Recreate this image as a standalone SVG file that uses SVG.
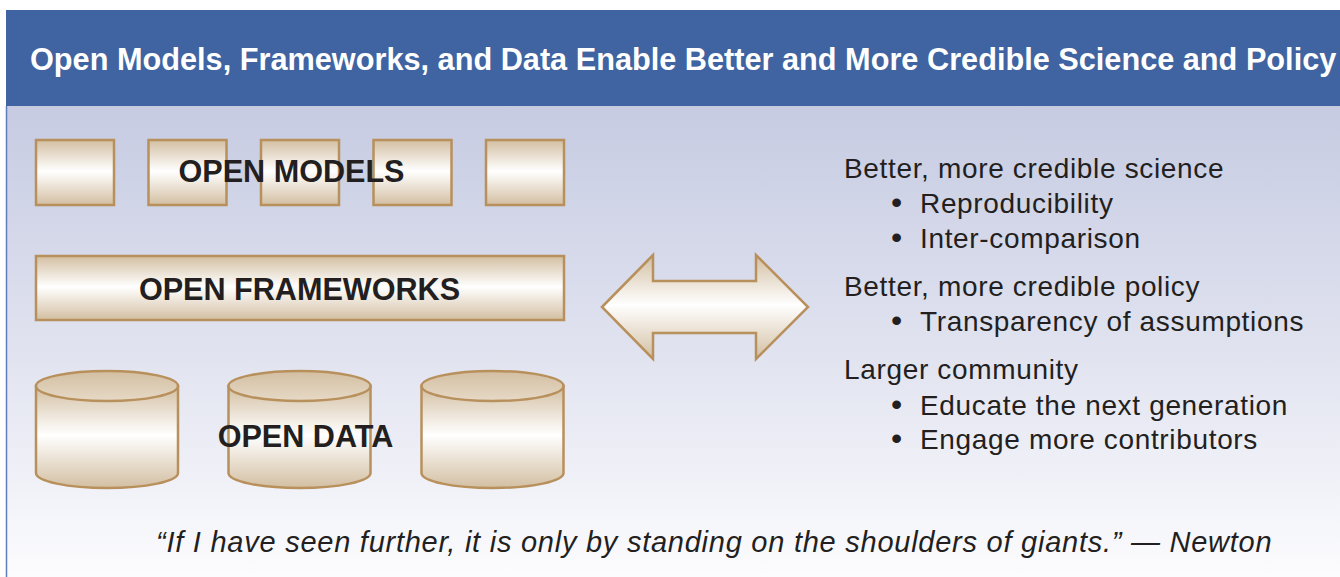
<svg xmlns="http://www.w3.org/2000/svg" width="1340" height="577" viewBox="0 0 1340 577">
  <defs>
    <linearGradient id="panelBg" x1="0" y1="0" x2="0" y2="1">
      <stop offset="0" stop-color="#c6cbe2"/>
      <stop offset="0.55" stop-color="#e2e4f0"/>
      <stop offset="1" stop-color="#fcfcfe"/>
    </linearGradient>
    <linearGradient id="tan" x1="0" y1="0" x2="0" y2="1">
      <stop offset="0" stop-color="#d3bfa2"/>
      <stop offset="0.48" stop-color="#ffffff"/>
      <stop offset="1" stop-color="#d3bfa2"/>
    </linearGradient>
    <linearGradient id="tanTop" x1="0" y1="0" x2="0" y2="1">
      <stop offset="0" stop-color="#d3bfa2"/>
      <stop offset="1" stop-color="#e6d9c6"/>
    </linearGradient>
    <style>
      .shape { fill: url(#tan); stroke: #b8905c; stroke-width: 2.5; }
      .lid { fill: url(#tanTop); stroke: #b8905c; stroke-width: 2.5; }
      .label { font-family: "Liberation Sans", Arial, sans-serif; font-weight: bold; font-size: 30.6px; fill: #231f20; text-anchor: middle; }
      .title { font-family: "Liberation Sans", Arial, sans-serif; font-weight: bold; font-size: 30.7px; fill: #ffffff; }
      .list { font-family: "Liberation Sans", Arial, sans-serif; font-size: 28px; letter-spacing: 0.66px; fill: #231f20; }
      .bullet { font-size: 32px; }
      .quote { font-family: "Liberation Sans", Arial, sans-serif; font-style: italic; font-size: 29px; letter-spacing: 0.75px; fill: #231f20; }
    </style>
  </defs>

  <!-- page and frame -->
  <rect x="0" y="0" width="1340" height="577" fill="#ffffff"/>
  <rect x="6" y="106" width="1334" height="471" fill="url(#panelBg)"/>
  <line x1="6.5" y1="106" x2="6.5" y2="577" stroke="#5f7cbc" stroke-width="1.5"/>
  <rect id="header" x="6" y="10" width="1334" height="96" fill="#4063a1"/>
  <text class="title" x="30" y="70">Open Models, Frameworks, and Data Enable Better and More Credible Science and Policy</text>

  <!-- open models -->
  <g id="open-models">
    <rect class="shape" x="36" y="140" width="78" height="65"/>
    <rect class="shape" x="148.5" y="140" width="78" height="65"/>
    <rect class="shape" x="261" y="140" width="78" height="65"/>
    <rect class="shape" x="373.5" y="140" width="78" height="65"/>
    <rect class="shape" x="486" y="140" width="78" height="65"/>
    <text class="label" x="291.5" y="182">OPEN MODELS</text>
  </g>

  <!-- open frameworks -->
  <g id="open-frameworks">
    <rect class="shape" x="36" y="256" width="528" height="64"/>
    <text class="label" x="299.5" y="299.5">OPEN FRAMEWORKS</text>
  </g>

  <!-- open data -->
  <g id="open-data">
    <g>
      <path class="shape" d="M36,386 V473 A71,15 0 0 0 178,473 V386 Z"/>
      <ellipse class="lid" cx="107" cy="386" rx="71" ry="15"/>
    </g>
    <g>
      <path class="shape" d="M228.5,386 V473 A71,15 0 0 0 370.5,473 V386 Z"/>
      <ellipse class="lid" cx="299.5" cy="386" rx="71" ry="15"/>
    </g>
    <g>
      <path class="shape" d="M421.5,386 V473 A71,15 0 0 0 563.5,473 V386 Z"/>
      <ellipse class="lid" cx="492.5" cy="386" rx="71" ry="15"/>
    </g>
    <text class="label" x="305.5" y="447">OPEN DATA</text>
  </g>

  <!-- two-way arrow -->
  <g id="connectors">
    <polygon class="shape" points="602,307 653,255 653,281 756,281 756,255 808,307 756,359 756,333 653,333 653,359"/>
  </g>

  <!-- benefits list -->
  <g id="benefits">
    <text class="list" x="844" y="178">Better, more credible science</text>
    <text class="list" y="213"><tspan class="bullet" x="891">•</tspan><tspan x="920">Reproducibility</tspan></text>
    <text class="list" y="248"><tspan class="bullet" x="891">•</tspan><tspan x="920">Inter-comparison</tspan></text>
    <text class="list" x="844" y="296">Better, more credible policy</text>
    <text class="list" y="331"><tspan class="bullet" x="891">•</tspan><tspan x="920">Transparency of assumptions</tspan></text>
    <text class="list" x="844" y="379">Larger community</text>
    <text class="list" y="415"><tspan class="bullet" x="891">•</tspan><tspan x="920">Educate the next generation</tspan></text>
    <text class="list" y="449"><tspan class="bullet" x="891">•</tspan><tspan x="920">Engage more contributors</tspan></text>
  </g>

  <!-- quotation -->
  <text id="quote" class="quote" x="156" y="552">“If I have seen further, it is only by standing on the shoulders of giants.” — Newton</text>
</svg>
